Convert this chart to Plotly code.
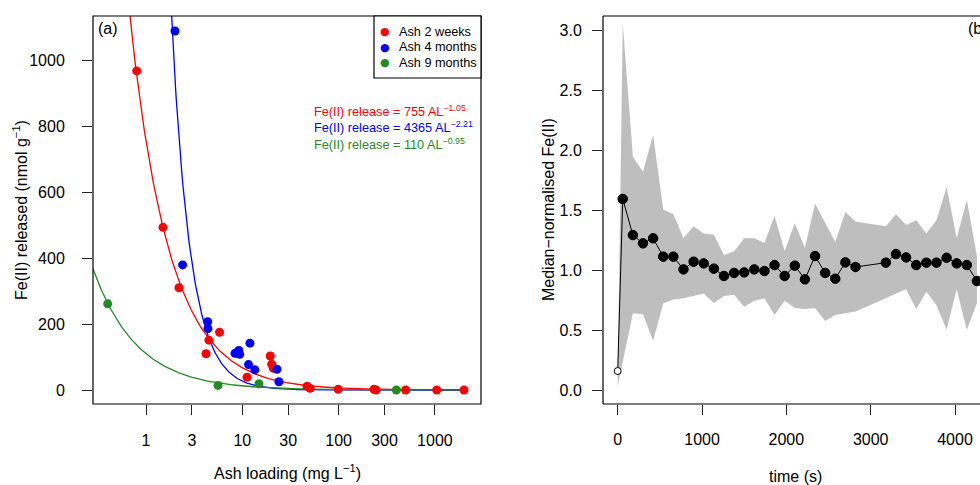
import numpy as np
import plotly.graph_objects as go

# ---------------- data: panel (a) ----------------
red_x = [0.8, 1.5, 2.2, 4.2, 4.5, 5.8, 11.2, 19.5, 20.2, 21, 47, 50.5, 99, 233, 245, 497, 1044, 2005]
red_y = [967, 493, 310, 110, 151, 175, 39, 103, 78, 66, 11, 5, 2, 2, 0, 0, 0, 0]
blue_x = [2.0, 2.4, 4.37, 4.4, 8.4, 8.8, 9.2, 9.4, 11.6, 12.0, 13.5, 22.9, 24.0]
blue_y = [1088, 379, 207, 186, 111, 112, 120, 108, 77, 142, 61, 63, 25]
green_x = [0.40, 5.6, 14.9, 398]
green_y = [261, 14, 19, 0]

series_names = ["Ash 2 weeks", "Ash 4 months", "Ash 9 months"]
fit_a = [755, 4365, 110]
fit_b = [-1.05, -2.21, -0.95]
fit_a_txt = ["755", "4365", "110"]
fit_b_txt = ["−1.05", "−2.21", "−0.95"]

x_ticks_a = [1, 3, 10, 30, 100, 300, 1000]
y_ticks_a = [0, 200, 400, 600, 800, 1000]

# ---------------- data: panel (b) ----------------
times = [0, 60, 180, 300, 420, 540, 660, 780, 900, 1020, 1140, 1260, 1380, 1500, 1620,
         1740, 1860, 1980, 2100, 2220, 2340, 2460, 2580, 2700, 2820, 3180, 3300, 3420,
         3540, 3660, 3780, 3900, 4020, 4140, 4260]
median_vals = [0.164, 1.598, 1.297, 1.228, 1.270, 1.117, 1.117, 1.011, 1.075, 1.061, 1.017,
               0.956, 0.981, 0.986, 1.011, 0.997, 1.047, 0.956, 1.042, 0.928, 1.122, 0.981,
               0.933, 1.069, 1.031, 1.067, 1.139, 1.111, 1.047, 1.067, 1.067, 1.108, 1.061,
               1.047, 0.914]
upper_vals = [0.10, 3.06, 1.95, 1.825, 2.13, 1.51, 1.47, 1.27, 1.37, 1.31, 1.30, 1.13, 1.16,
              1.27, 1.27, 1.23, 1.455, 1.165, 1.395, 1.19, 1.56, 1.395, 1.24, 1.49, 1.41,
              1.37, 1.47, 1.38, 1.42, 1.31, 1.42, 1.695, 1.27, 1.59, 1.12]
lower_vals = [0.04, 0.23, 0.645, 0.637, 0.417, 0.728, 0.76, 0.77, 0.79, 0.81, 0.73, 0.79, 0.80,
              0.70, 0.75, 0.77, 0.63, 0.75, 0.69, 0.68, 0.69, 0.58, 0.63, 0.645, 0.66, 0.77,
              0.81, 0.845, 0.68, 0.825, 0.715, 0.51, 0.845, 0.506, 0.73]
x_ticks_b = [0, 1000, 2000, 3000, 4000]
y_ticks_b = [0.0, 0.5, 1.0, 1.5, 2.0, 2.5, 3.0]

# ---------------- styling / layout (window pixel coordinates) ----------------
W, H = 980, 485
FONT = "Liberation Sans, Arial, Helvetica, sans-serif"
colors = ["#FF0000", "#0000FF", "#228B22"]
top_px, bot_px = 16, 404
a_left, a_right = 93, 481
b_left = 603

def fx(p):   # pixel x -> paper x
    return p / W

def py(p):   # pixel y -> paper y
    return (bot_px - p) / (bot_px - top_px)

def ax_a(p):  # pixel x -> x domain of panel a
    return (p - a_left) / (a_right - a_left)

fig = go.Figure()

# fitted curves
xs = np.logspace(np.log10(0.28), np.log10(2000), 400)
for a, b, c in zip(fit_a, fit_b, colors):
    fig.add_trace(go.Scatter(x=xs, y=a * xs ** b, mode="lines",
                             line=dict(color=c, width=1.3), showlegend=False,
                             hoverinfo="skip", xaxis="x", yaxis="y"))

# points
for xv, yv, c, n in zip([red_x, blue_x, green_x], [red_y, blue_y, green_y], colors, series_names):
    fig.add_trace(go.Scatter(x=xv, y=yv, mode="markers", name=n,
                             marker=dict(color=c, size=9, opacity=1, line=dict(width=0)),
                             showlegend=False, xaxis="x", yaxis="y"))

# panel b band
fig.add_trace(go.Scatter(x=times + times[::-1], y=upper_vals + lower_vals[::-1],
                         fill="toself", fillcolor="#BEBEBE", line=dict(width=0),
                         mode="lines", showlegend=False, hoverinfo="skip",
                         xaxis="x2", yaxis="y2"))
mcolors = ["white"] + ["black"] * (len(times) - 1)
msizes = [7] + [9.5] * (len(times) - 1)
fig.add_trace(go.Scatter(x=times, y=median_vals, mode="lines+markers",
                         line=dict(color="black", width=1),
                         marker=dict(color=mcolors, size=msizes, opacity=1,
                                     line=dict(color="black", width=1)),
                         showlegend=False, xaxis="x2", yaxis="y2"))

axis_common = dict(showgrid=False, zeroline=False, showline=False, ticks="outside",
                   ticklen=10, tickwidth=1, tickcolor="#222",
                   tickfont=dict(family=FONT, size=16, color="black"))

fig.update_layout(
    width=W, height=H,
    margin=dict(l=0, r=0, t=top_px, b=H - bot_px, pad=0),
    paper_bgcolor="white", plot_bgcolor="white",
    font=dict(family=FONT, size=16, color="black"),
    showlegend=False,
    xaxis=dict(type="log", domain=[fx(a_left), fx(a_right)],
               range=[(a_left - 146) / 96.3, (a_right - 146) / 96.3],
               tickvals=x_ticks_a, ticktext=[str(v) for v in x_ticks_a],
               ticklabelstandoff=12, **axis_common),
    yaxis=dict(domain=[0, 1], range=[(390 - bot_px) / 0.33, (390 - top_px) / 0.33],
               tickvals=y_ticks_a, ticktext=[str(v) for v in y_ticks_a],
               ticklabelstandoff=14, anchor="x", **axis_common),
    xaxis2=dict(domain=[fx(b_left), 1.0],
                range=[(b_left - 617.7) / 0.08433, (W - 617.7) / 0.08433],
                tickvals=x_ticks_b, ticktext=[str(v) for v in x_ticks_b],
                ticklabelstandoff=11, anchor="y2", **axis_common),
    yaxis2=dict(domain=[0, 1], range=[(390.7 - bot_px) / 120, (390.7 - top_px) / 120],
                tickvals=y_ticks_b, ticktext=["%.1f" % v for v in y_ticks_b],
                ticklabelstandoff=7, anchor="x2", **axis_common),
)

shapes = []
# panel a box
shapes.append(dict(type="rect", xref="x domain", yref="y domain", x0=0, x1=1, y0=0, y1=1,
                   line=dict(color="black", width=1.2)))
# panel b box (its right edge lies beyond the window)
for (x0, y0, x1, y1) in [(0, 0, 1.05, 0), (0, 1, 1.05, 1), (0, 0, 0, 1)]:
    shapes.append(dict(type="line", xref="x2 domain", yref="y2 domain",
                       x0=x0, y0=y0, x1=x1, y1=y1, line=dict(color="black", width=1.2)))
# legend box
leg_l, leg_b = 374, 78
shapes.append(dict(type="rect", xref="x domain", yref="y domain", x0=ax_a(leg_l), x1=1,
                   y0=py(leg_b), y1=1, line=dict(color="black", width=1.2),
                   fillcolor="white", layer="above"))
fig.update_layout(shapes=shapes)

ann = []
# legend entries
for i, (n, c) in enumerate(zip(series_names, colors)):
    yy = py(32 + 15.3 * i)
    ann.append(dict(xref="x domain", yref="y domain", x=ax_a(385), y=yy,
                    text="●", showarrow=False, xanchor="center", yanchor="middle",
                    font=dict(family="DejaVu Sans", size=11, color=c)))
    ann.append(dict(xref="x domain", yref="y domain", x=ax_a(397), y=yy,
                    text=n, showarrow=False, xanchor="left", yanchor="middle",
                    font=dict(family=FONT, size=12.7, color="black")))
# equations
for i, (at, bt, c) in enumerate(zip(fit_a_txt, fit_b_txt, colors)):
    ann.append(dict(xref="x domain", yref="y domain", x=ax_a(311.7), y=py(111 + 16.3 * i),
                    text="Fe(II) release = %s AL<sup>%s</sup>" % (at, bt),
                    showarrow=False, xanchor="left", yanchor="middle",
                    font=dict(family=FONT, size=12.7, color=c)))
# panel labels
ann.append(dict(xref="paper", yref="paper", x=fx(96), y=py(28), text="(a)",
                showarrow=False, xanchor="left", yanchor="middle",
                font=dict(family=FONT, size=16, color="black")))
ann.append(dict(xref="paper", yref="paper", x=fx(966), y=py(28), text="(b)",
                showarrow=False, xanchor="left", yanchor="middle",
                font=dict(family=FONT, size=16, color="black")))
# axis titles
ann.append(dict(xref="paper", yref="paper", x=fx(287), y=py(472),
                text="Ash loading (mg L<sup>−1</sup>)", showarrow=False,
                xanchor="center", yanchor="middle", font=dict(family=FONT, size=16)))
ann.append(dict(xref="paper", yref="paper", x=fx(20), y=py(210),
                text="Fe(II) released (nmol g<sup>−1</sup>)", showarrow=False, textangle=-90,
                xanchor="center", yanchor="middle", font=dict(family=FONT, size=16)))
ann.append(dict(xref="paper", yref="paper", x=fx(795), y=py(476),
                text="time (s)", showarrow=False,
                xanchor="center", yanchor="middle", font=dict(family=FONT, size=16)))
ann.append(dict(xref="paper", yref="paper", x=fx(548), y=py(210),
                text="Median−normalised Fe(II)", showarrow=False, textangle=-90,
                xanchor="center", yanchor="middle", font=dict(family=FONT, size=16)))
fig.update_layout(annotations=ann)

fig.write_html("out.html",
               config={"displayModeBar": False, "staticPlot": True},
               post_script="document.body.style.margin='0px';"
                           "document.documentElement.style.overflow='hidden';"
                           "document.body.style.overflow='hidden';")
